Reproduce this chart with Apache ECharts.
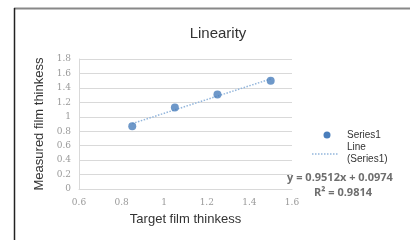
<!DOCTYPE html>
<html>
<head>
<meta charset="utf-8">
<script src="https://cdn.jsdelivr.net/npm/echarts@6/dist/echarts.min.js"></script>
<style>
  html, body { margin: 0; padding: 0; background: #fff; }
  #chart { width: 410px; height: 240px; }
</style>
</head>
<body>
<div id="chart"></div>
<script>
// measured points (target, measured)
var targetX = [0.85, 1.05, 1.25, 1.5];
var measuredY = [0.87, 1.13, 1.31, 1.5];
// trendline ends
var trendX = [0.85, 1.5];
var trendY = [0.906, 1.524];
var seriesName = 'Series1';
var trendName = 'Line\n(Series1)';
var eqText = 'y = 0.9512x + 0.0974';
var r2Text = 'R\u00b2 = 0.9814';

var chart = echarts.init(document.getElementById('chart'), null, { renderer: 'canvas' });

var tickFont = { color: '#9a9a9a', fontSize: 9, fontFamily: 'DejaVu Serif' };
var legendFont = '10px "Liberation Sans"';

var option = {
  backgroundColor: '#fff',
  animation: false,
  title: {
    text: 'Linearity',
    left: 213,
    top: 21,
    textAlign: 'center',
    textStyle: { fontFamily: 'Liberation Sans', fontWeight: 'normal', fontSize: 15, color: '#333' }
  },
  grid: { left: 79, right: 118, top: 59, bottom: 51 },
  xAxis: {
    type: 'value',
    min: 0.6, max: 1.6, interval: 0.2,
    name: 'Target film thinkess',
    nameLocation: 'middle',
    nameGap: 24,
    nameTextStyle: { fontFamily: 'Liberation Sans', fontSize: 13, color: '#333' },
    axisLine: { show: true, lineStyle: { color: '#d9d9d9' } },
    axisTick: { show: false },
    splitLine: { show: false },
    axisLabel: Object.assign({ margin: 9, formatter: function (v) { return +v.toFixed(1) + ''; } }, tickFont)
  },
  yAxis: {
    type: 'value',
    min: 0, max: 1.8, interval: 0.2,
    name: 'Measured film thinkess',
    nameLocation: 'middle',
    nameGap: 22,
    nameTextStyle: { fontFamily: 'Liberation Sans', fontSize: 13, color: '#333' },
    axisLine: { show: true, lineStyle: { color: '#d9d9d9' } },
    axisTick: { show: false },
    splitLine: { lineStyle: { color: '#d9d9d9' } },
    axisLabel: Object.assign({ margin: 8, formatter: function (v) { return +v.toFixed(1) + ''; } }, tickFont)
  },
  series: [
    {
      name: trendName,
      type: 'line',
      data: trendX.map(function (x, i) { return [x, trendY[i]]; }),
      symbol: 'none',
      lineStyle: { color: '#93b6dc', width: 1.5, type: 'dotted' },
      z: 1
    },
    {
      name: seriesName,
      type: 'scatter',
      data: targetX.map(function (x, i) { return [x, measuredY[i]]; }),
      symbolSize: 8,
      itemStyle: { color: '#4a7ebb' },
      z: 3
    }
  ],
  graphic: [
    // frame
    { type: 'line', shape: { x1: 14, y1: 8.5, x2: 410, y2: 8.5 }, style: { stroke: '#888', lineWidth: 2 } },
    { type: 'line', shape: { x1: 14.5, y1: 8, x2: 14.5, y2: 240 }, style: { stroke: '#222', lineWidth: 1.5 } },
    // legend
    { type: 'circle', shape: { cx: 327, cy: 135, r: 3.5 }, style: { fill: '#4a7ebb' } },
    { type: 'text', style: { text: seriesName, x: 347, y: 135, verticalAlign: 'middle', font: legendFont, fill: '#333' } },
    { type: 'line', shape: { x1: 312, y1: 154, x2: 339, y2: 154 }, style: { stroke: '#93b6dc', lineWidth: 1.5, lineDash: [1.5, 1.5] } },
    { type: 'text', style: { text: trendName, x: 347, y: 153, verticalAlign: 'middle', lineHeight: 12, font: legendFont, fill: '#333' } },
    // trendline equation
    { type: 'text', style: { text: eqText, x: 340, y: 178, align: 'center', verticalAlign: 'middle',
      font: 'bold 11px "Open Sans"', fill: '#6e6e6e' } },
    { type: 'text', style: { text: r2Text, x: 343, y: 193, align: 'center', verticalAlign: 'middle',
      font: 'bold 11px "Open Sans"', fill: '#6e6e6e' } }
  ]
};

chart.setOption(option);
</script>
</body>
</html>
